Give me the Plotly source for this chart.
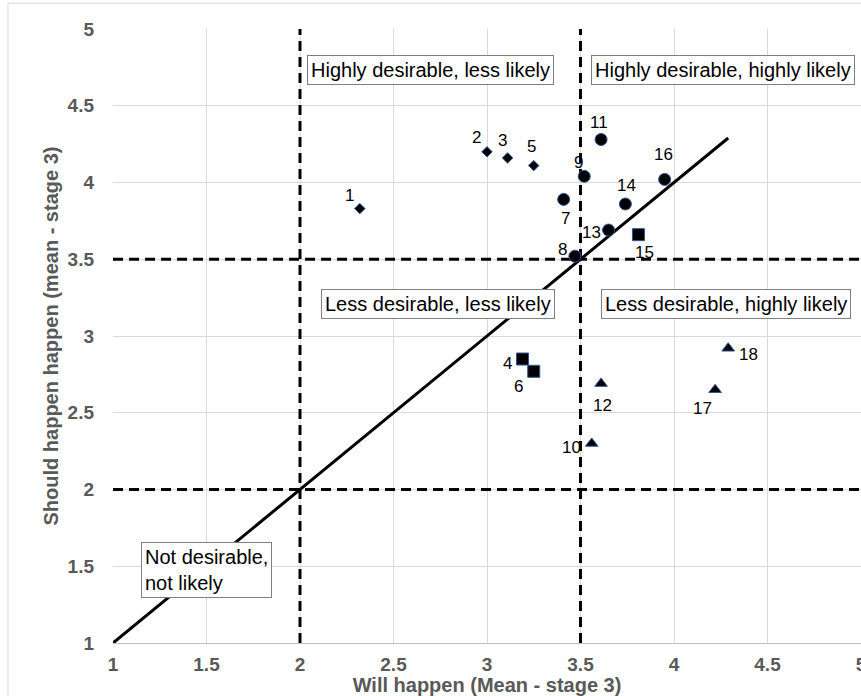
import plotly.graph_objects as go

# ---- data ----
diamond_ids = ["1", "2", "3", "5"]
diamond_x = [2.32, 3.00, 3.11, 3.25]
diamond_y = [3.83, 4.20, 4.16, 4.11]

circle_ids = ["7", "8", "9", "11", "13", "14", "16"]
circle_x = [3.41, 3.47, 3.52, 3.61, 3.65, 3.74, 3.95]
circle_y = [3.89, 3.52, 4.04, 4.28, 3.69, 3.86, 4.02]

square_ids = ["4", "6", "15"]
square_x = [3.19, 3.25, 3.81]
square_y = [2.85, 2.77, 3.66]

triangle_ids = ["10", "12", "17", "18"]
triangle_x = [3.56, 3.61, 4.22, 4.29]
triangle_y = [2.30, 2.69, 2.65, 2.92]

trend_x = [1.0, 4.29]
trend_y = [1.0, 4.29]

x_thresholds = [2.0, 3.5]
y_thresholds = [2.0, 3.5]
axis_min, axis_max = 1.0, 5.0

x_ticks = [1, 1.5, 2, 2.5, 3, 3.5, 4, 4.5, 5]
y_ticks = [1, 1.5, 2, 2.5, 3, 3.5, 4, 4.5, 5]

quadrant_labels = ["Highly desirable, less likely", "Highly desirable, highly likely",
                   "Less desirable, less likely", "Less desirable, highly likely",
                   "Not desirable,<br>not likely"]

# ---- style (label offsets in px, box positions) ----
label_offsets = {
    "1": (-10, 13), "2": (-11, 14), "3": (-5, 17), "5": (-2, 19),
    "7": (2, -19), "8": (-12, 7), "9": (-6, 14), "11": (-2, 17),
    "13": (-17, -2), "14": (1, 18), "16": (-1, 25),
    "4": (-15, -4), "6": (-15, -15), "15": (6, -18),
    "10": (-20, -4), "12": (1, -22), "17": (-13, -19), "18": (20, -6),
}
box_pos = [(2.70, 4.73, "center"), (4.26, 4.73, "center"),
           (2.74, 3.21, "center"), (4.28, 3.21, "center"), (1.50, 1.475, "left")]

FONT = "Liberation Sans, Arial, sans-serif"
mline = dict(color="#2F5597", width=1)
dash = "10px,6px"

fig = go.Figure()
for xv in x_thresholds:
    fig.add_trace(go.Scatter(x=[xv, xv], y=[axis_min, axis_max], mode="lines",
                             line=dict(color="black", width=3, dash=dash),
                             showlegend=False, hoverinfo="skip"))
for yv in y_thresholds:
    fig.add_trace(go.Scatter(x=[axis_min, axis_max], y=[yv, yv], mode="lines",
                             line=dict(color="black", width=3, dash=dash),
                             showlegend=False, hoverinfo="skip"))
fig.add_trace(go.Scatter(x=trend_x, y=trend_y, mode="lines",
                         line=dict(color="black", width=3), showlegend=False, hoverinfo="skip"))
fig.add_trace(go.Scatter(x=diamond_x, y=diamond_y, mode="markers",
                         marker=dict(symbol="diamond", size=8, color="black", line=mline), showlegend=False))
fig.add_trace(go.Scatter(x=circle_x, y=circle_y, mode="markers",
                         marker=dict(symbol="circle", size=12, color="black", line=mline), showlegend=False))
fig.add_trace(go.Scatter(x=square_x, y=square_y, mode="markers",
                         marker=dict(symbol="square", size=12, color="black", line=mline), showlegend=False))
fig.add_trace(go.Scatter(x=triangle_x, y=triangle_y, mode="markers",
                         marker=dict(symbol="triangle-up", size=11, color="black", line=mline), showlegend=False))

annotations = []
for ids, xs, ys in [(diamond_ids, diamond_x, diamond_y), (circle_ids, circle_x, circle_y),
                    (square_ids, square_x, square_y), (triangle_ids, triangle_x, triangle_y)]:
    for i, xv, yv in zip(ids, xs, ys):
        dx, dy = label_offsets[i]
        annotations.append(dict(x=xv, y=yv, text=i, showarrow=False, xshift=dx, yshift=dy,
                                font=dict(family=FONT, size=17, color="black")))

for txt, (bx, by, al) in zip(quadrant_labels, box_pos):
    annotations.append(dict(x=bx, y=by, text=txt, showarrow=False, align=al,
                            xanchor="center", yanchor="middle",
                            font=dict(family=FONT, size=20, color="black"),
                            bgcolor="white", bordercolor="#7F7F7F", borderwidth=1, borderpad=3))

# outer chart frame
shapes = [dict(type="rect", xref="paper", yref="paper", x0=-0.1404, x1=1.2, y0=-0.3, y1=1.042,
               line=dict(color="#D9D9D9", width=1), layer="below")]

tick_font = dict(family=FONT, size=19, color="#595959", weight="bold")
title_font = dict(family=FONT, size=20, color="#595959", weight="bold")
fig.update_layout(
    width=861, height=696,
    margin=dict(l=113, r=0, t=29, b=53, autoexpand=False),
    paper_bgcolor="white", plot_bgcolor="white",
    font=dict(family=FONT),
    xaxis=dict(range=[axis_min, axis_max], tickvals=x_ticks, ticktext=[f"{v:g}" for v in x_ticks],
               showgrid=True, gridcolor="#D9D9D9", gridwidth=1, zeroline=False,
               showline=True, linecolor="#BFBFBF", linewidth=1, ticks="", automargin=False,
               tickfont=tick_font, ticklabelstandoff=4, ticklabeloverflow="allow",
               title=dict(text="Will happen (Mean - stage 3)", font=title_font, standoff=8)),
    yaxis=dict(range=[axis_min, axis_max], tickvals=y_ticks, ticktext=[f"{v:g}" for v in y_ticks],
               showgrid=True, gridcolor="#D9D9D9", gridwidth=1, zeroline=False, automargin=False,
               showline=False, ticks="", tickfont=tick_font, ticklabelstandoff=18,
               ticklabeloverflow="allow",
               title=dict(text="Should happen happen (mean - stage 3)", font=title_font, standoff=3)),
    annotations=annotations,
    shapes=shapes,
)

fig.write_html("out.html", config={"displayModeBar": False},
               post_script="document.body.style.margin='0';document.body.style.overflow='hidden';")
